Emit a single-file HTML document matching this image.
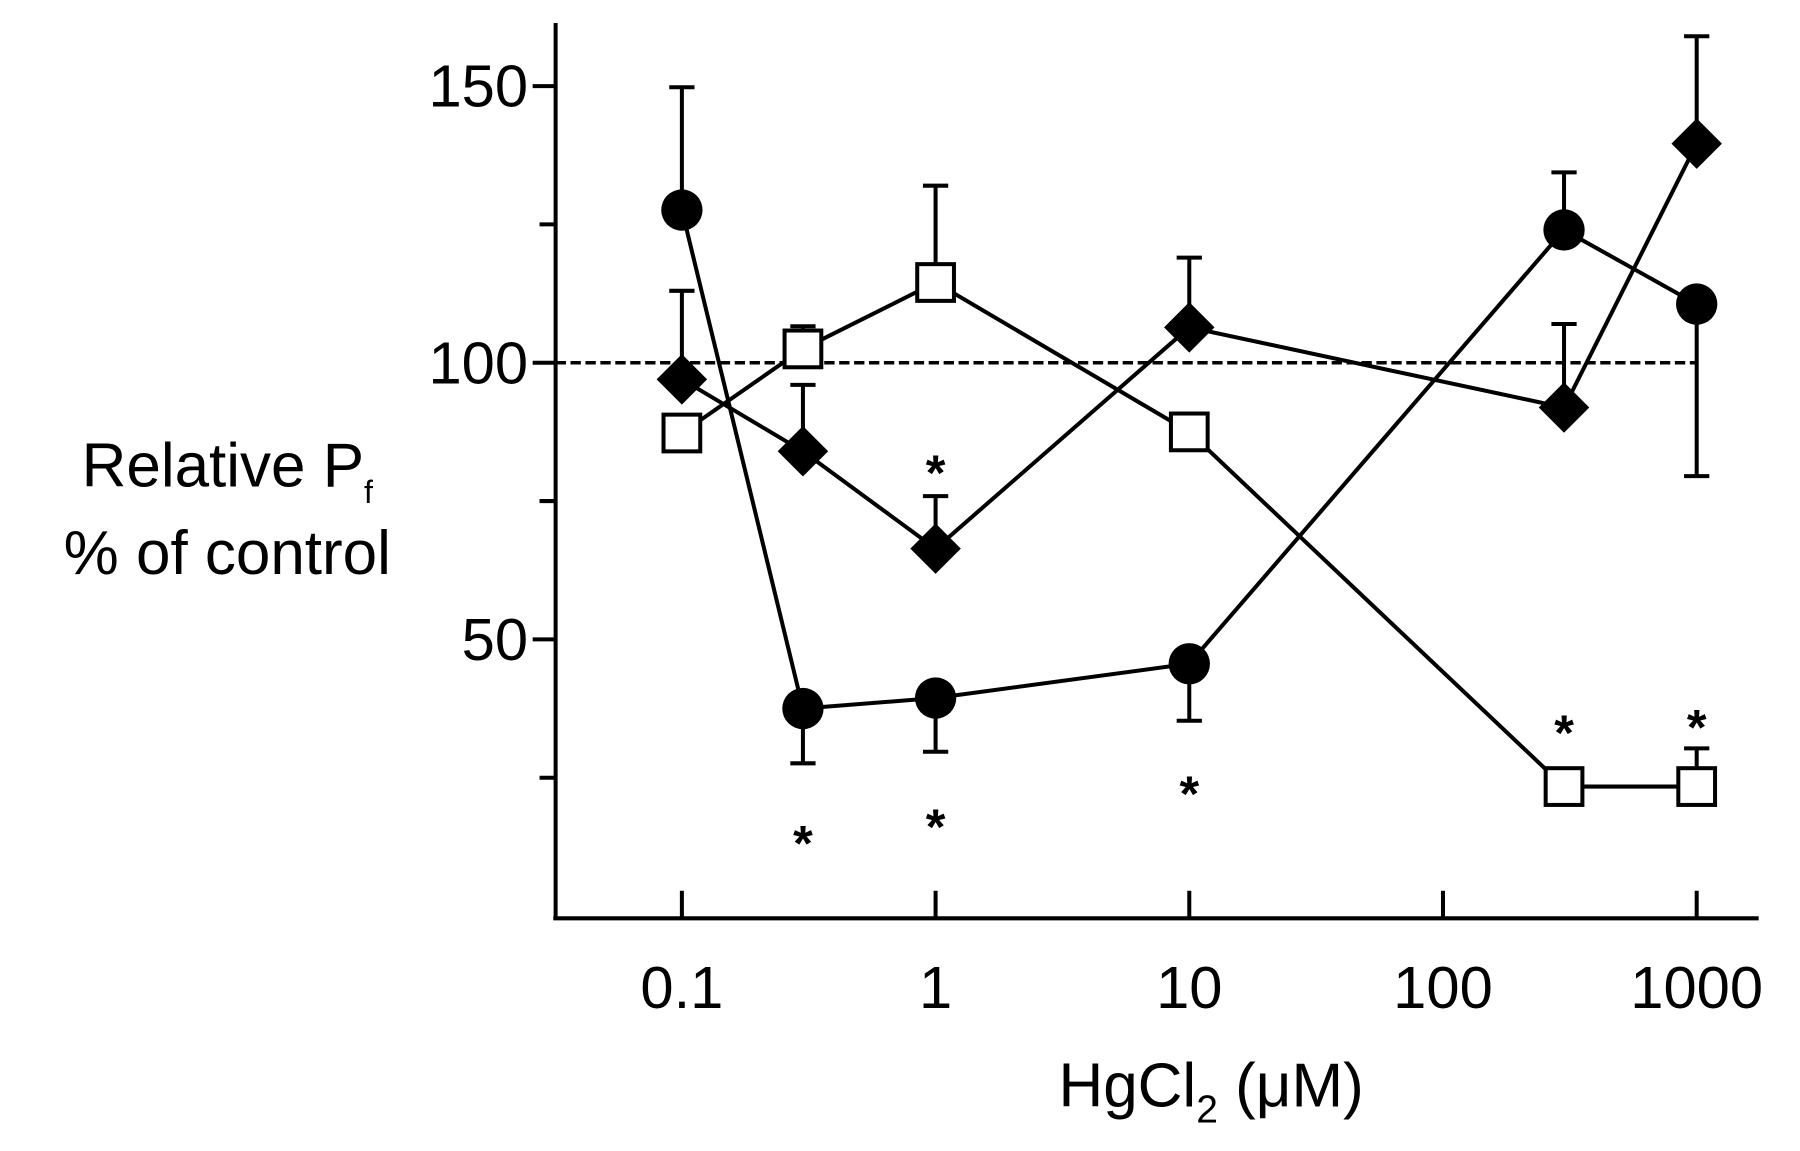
<!DOCTYPE html>
<html><head><meta charset="utf-8"><style>
html,body{margin:0;padding:0;background:#fff;}
svg{display:block;}
text{font-family:"Liberation Sans",sans-serif;fill:#000;}
</style></head><body>
<svg id="chart" width="1800" height="1151" viewBox="0 0 1568 1002.7" preserveAspectRatio="none" xmlns="http://www.w3.org/2000/svg">
<g id="axes"></g>
<g id="marks"></g>
</svg>
<script>
const xValues=[0.1,0.3,1,10,300,1000];
const circleVals=[127.6,37.5,39.4,45.6,124,110.6];
const circleErr=[149.8,27.6,29.7,35.3,134.4,79.5];
const diamondVals=[97,84,66.4,106.4,91.9,139.6];
const diamondErr=[113,96,75.9,119,107,159];
const squareVals=[87.3,102.5,114.5,87.5,23.4,23.4];
const squareErr=[null,106.6,132,null,null,30.3];
const xTicks=[0.1,1,10,100,1000];
const xTickLabels=["0.1","1","10","100","1000"];
const yTicks=[150,100,50];
const yMinor=[125,75,25];
const stars=[[0.3,15],[1,18],[10,24],[1,82],[300,35],[1000,36]];

const NS="http://www.w3.org/2000/svg";
const X=v=>594+221*Math.log10(v/0.1);
const Y=v=>316-(v-100)*4.82;
const axes=document.getElementById('axes'), marks=document.getElementById('marks');
function el(tag,attrs,parent,txt){const e=document.createElementNS(NS,tag);for(const k in attrs)e.setAttribute(k,attrs[k]);if(txt!==undefined)e.textContent=txt;parent.appendChild(e);return e;}

let a=el('line',{x1:484,y1:20,x2:484,y2:800,stroke:'#000','stroke-width':3.5},axes);


a=el('line',{x1:482,y1:800,x2:1532,y2:800,stroke:'#000','stroke-width':3.5},axes);


yTicks.forEach(v=>{
  let t=el('line',{x1:484,y1:Y(v),x2:464,y2:Y(v),stroke:'#000','stroke-width':3.5},axes);
  
  
  let l=el('text',{x:460,y:Y(v)+18,'text-anchor':'end','font-size':52},axes,String(v));
  
  
});
yMinor.forEach(v=>{
  let t=el('line',{x1:484,y1:Y(v),x2:470,y2:Y(v),stroke:'#000','stroke-width':3.5},axes);
  
  
});
xTicks.forEach((v,i)=>{
  let t=el('line',{x1:X(v),y1:800,x2:X(v),y2:776,stroke:'#000','stroke-width':3.5},axes);
  
  
  let l=el('text',{x:X(v),y:878,'text-anchor':'middle','font-size':52},axes,xTickLabels[i]);
  
  
});
let yt=el('text',{x:198,y:424,'text-anchor':'middle','font-size':54},axes);


yt.innerHTML='Relative P<tspan font-size="28" dy="14">f</tspan>';
el('text',{x:198,y:500,'text-anchor':'middle','font-size':54},axes,'% of control');
let xt=el('text',{x:1055,y:964,'text-anchor':'middle','font-size':54},axes);


xt.innerHTML='HgCl<tspan font-size="34" dy="14">2</tspan><tspan dy="-14"> (μM)</tspan>';

let ref=el('line',{x1:484,y1:Y(100),x2:1478,y2:Y(100),stroke:'#000','stroke-width':3,'stroke-dasharray':'9 4'},marks);



function errBars(vals,errs,name){
  vals.forEach((v,i)=>{ if(errs[i]==null)return;
    const x=X(xValues[i]);
    let e=el('line',{x1:x,y1:Y(v),x2:x,y2:Y(errs[i]),stroke:'#000','stroke-width':3.5},marks);
    
    
    el('line',{x1:x-11,y1:Y(errs[i]),x2:x+11,y2:Y(errs[i]),stroke:'#000','stroke-width':3.5},marks);
  });
}
function line(vals,name){
  let p=el('polyline',{points:vals.map((v,i)=>X(xValues[i])+','+Y(v)).join(' '),fill:'none',stroke:'#000','stroke-width':3.5},marks);
  
  
}
errBars(circleVals,circleErr,'circle');
errBars(diamondVals,diamondErr,'diamond');
errBars(squareVals,squareErr,'square');
line(circleVals,'circle');line(diamondVals,'diamond');line(squareVals,'square');
circleVals.forEach((v,i)=>{
  let c=el('circle',{cx:X(xValues[i]),cy:Y(v),r:18,fill:'#000'},marks);
  
  
});
diamondVals.forEach((v,i)=>{
  const x=X(xValues[i]),y=Y(v),d=22;
  let p=el('polygon',{points:`${x},${y-d} ${x+d},${y} ${x},${y+d} ${x-d},${y}`,fill:'#000'},marks);
  
  
});
squareVals.forEach((v,i)=>{
  let r=el('rect',{x:X(xValues[i])-16,y:Y(v)-16,width:32,height:32,fill:'#fff',stroke:'#000','stroke-width':3.5},marks);
  
  
});
stars.forEach(s=>{
  let t=el('text',{x:X(s[0]),y:Y(s[1])+24,'text-anchor':'middle','font-size':44,'font-weight':'bold'},marks,'*');
  
  
});
</script>
</body></html>
